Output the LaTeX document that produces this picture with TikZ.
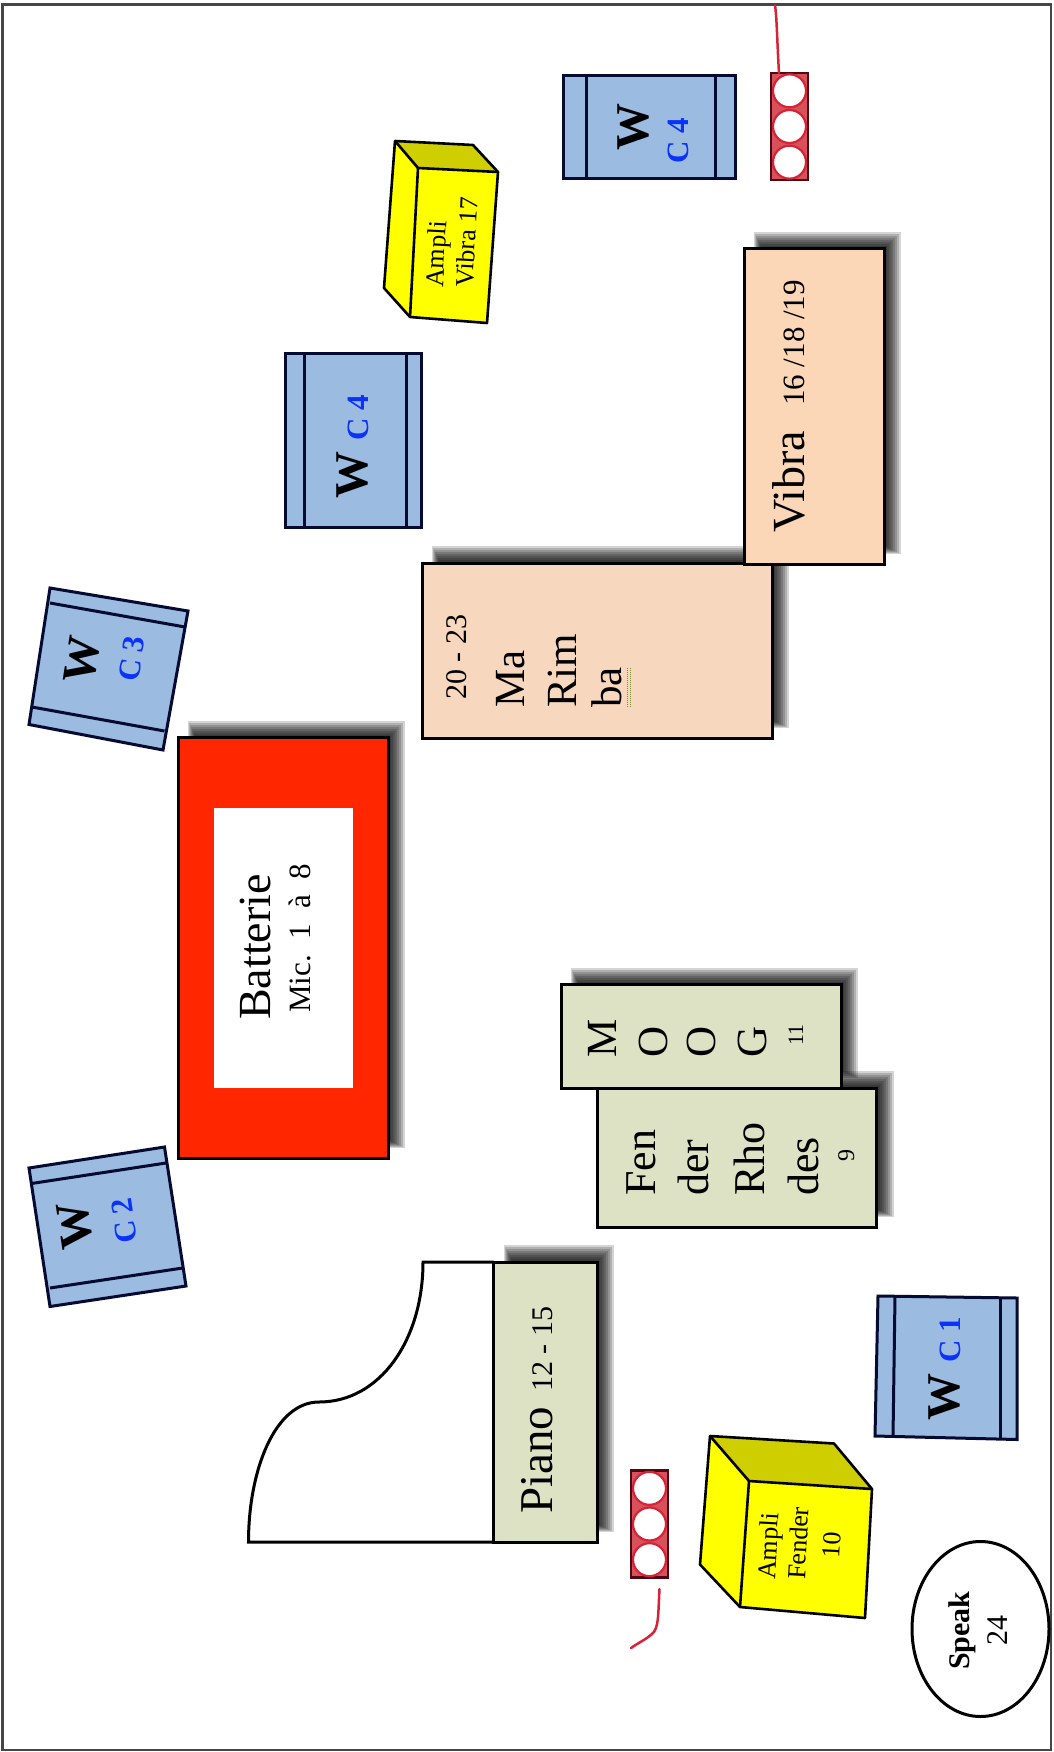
\documentclass[tikz,border=0pt]{standalone}
\usepackage{fontspec}
\setmainfont{Liberation Serif}
\definecolor{wood}{RGB}{251,214,183}
\definecolor{wood2}{RGB}{247,216,190}
\definecolor{sage}{RGB}{221,226,196}
\definecolor{spk}{RGB}{155,187,224}
\definecolor{navy}{RGB}{5,10,50}
\definecolor{drum}{RGB}{255,38,0}
\definecolor{ampf}{RGB}{255,255,0}
\definecolor{ampt}{RGB}{206,206,0}
\definecolor{micr}{RGB}{215,35,55}
\definecolor{micd}{RGB}{80,8,18}
\definecolor{micf}{RGB}{215,80,90}
\definecolor{cblue}{RGB}{10,50,250}
\definecolor{frame}{RGB}{70,70,70}
\definecolor{squig}{RGB}{120,140,50}
\tikzset{
  lbl/.style={inner sep=0pt,anchor=base west,text=black},
  up/.style={lbl,rotate=90},
  fs/.style={font=\fontsize{#1}{#1}\selectfont},
  bfs/.style={font=\fontsize{#1}{#1}\selectfont\bfseries},
  box/.style={draw=black,line width=3pt,line join=miter},
  cab/.style={draw=navy,line width=3pt,fill=spk,line join=miter},
  bar/.style={draw=navy,line width=3pt},
  cubeedge/.style={draw=black,line width=2.6pt,line join=round},
  micbox/.style={draw=micd,line width=2.5pt,fill=micf},
  micc/.style={draw=micr,line width=2.2pt,fill=white},
  micl/.style={draw=micr,line width=2.5pt,line cap=round},
}
% soft shadow of a rectangle, towards the upper right
\newcommand{\softshade}[4]{%
  \foreach \g in {8,6,4,2,0,-2,-4,-6,-8}{%
    \fill[black,fill opacity=.17]
      ({#1+14-\g/2},{#2-9-\g}) rectangle ({#3+9+\g},{#4-14+\g/2});
  }%
}
\newcommand{\micgroup}[4]{%
  \draw[micbox] (#1,#2) rectangle (#3,#4);
  \pgfmathsetmacro{\cx}{(#1+#3)/2}
  \pgfmathsetmacro{\cya}{#2+(#4-#2)/6}
  \pgfmathsetmacro{\cyb}{#2+(#4-#2)/2}
  \pgfmathsetmacro{\cyc}{#2+5*(#4-#2)/6}
  \foreach \cy in {\cya,\cyb,\cyc}{\draw[micc] (\cx,\cy) circle (16.5);}
}
\begin{document}
\begin{tikzpicture}[x=1pt,y=-1pt]
\useasboundingbox (0,0) rectangle (1053,1752);
\fill[white] (0,0) rectangle (1053,1752);
\draw[frame,line width=2.6pt] (2.5,4.5) rectangle (1051,1750);

% ---- top speaker C4 and microphones
\draw[cab] (563,76) rectangle (735,179);
\draw[bar] (586,76) -- (586,179);
\draw[bar] (715,76) -- (715,179);
\node[up,bfs=47] (wa) at (648,151) {W};
\node[up,bfs=31,text=cblue] (ca) at (688,164) {C 4};

\micgroup{771}{73}{808}{180}
\draw[micl] (779,73) .. controls (777,40) and (777,20) .. (775,5);

% ---- ampli vibra
\fill[ampf] (395,141) -- (473,145) -- (498,172) -- (487,323) -- (410,317) -- (384,288) -- cycle;
\fill[ampt] (395,141) -- (473,145) -- (498,172) -- (418,168) -- cycle;
\draw[cubeedge] (395,141) -- (473,145) -- (498,172) -- (487,323) -- (410,317) -- (384,288) -- cycle;
\draw[cubeedge] (395,141) -- (418,168) -- (498,172);
\draw[cubeedge] (418,168) -- (410,317);
\node[lbl,rotate=87,fs=26] (ampv1) at (443,288) {Ampli};
\node[lbl,rotate=87,fs=26] (ampv2) at (473,288) {Vibra 17};

% ---- middle speaker C4
\draw[cab] (285,353) rectangle (421,527);
\draw[bar] (304,353) -- (304,527);
\draw[bar] (406,353) -- (406,527);
\node[up,bfs=47] (wb) at (367,499) {W};
\node[up,bfs=31,text=cblue] (cb) at (368,441) {C 4};

% ---- marimba
\softshade{422}{563}{772}{738}
\draw[box,fill=wood2] (422,563) rectangle (772,738);
\node[up,fs=30] (mar0) at (466,700) {20 - 23};
\node[up,fs=43] (mar1) at (524,708) {Ma};
\node[up,fs=43] (mar2) at (576,708) {Rim};
\node[up,fs=43] (mar3) at (621,708) {ba};
\draw[squig,line width=1pt,densely dotted] (627,668) -- (627,707);
\draw[squig,line width=1pt,densely dotted] (630,668) -- (630,707);

% ---- vibra
\softshade{744}{249}{884}{564}
\draw[box,fill=wood] (744,249) rectangle (884,564);
\node[up,fs=46] (vib) at (804,533) {Vibra};
\node[up,fs=31] (vibn) at (804,406) {16 /18 /19};

% ---- speaker C3
\draw[cab] (50,588) -- (188,611) -- (163,750) -- (29,724.5) -- cycle;
\draw[bar] (50,603) -- (185,627);
\draw[bar] (32,707) -- (164.5,731);
\node[lbl,rotate=81,bfs=47] (wc) at (93,686) {W};
\node[lbl,rotate=81,bfs=31,text=cblue] (cc) at (138,683) {C 3};

% ---- batterie
\softshade{178}{737.5}{388}{1158}
\draw[box,fill=drum] (178,737.5) rectangle (388,1158);
\fill[white] (213.5,808) rectangle (352.5,1088);
\node[up,fs=46] (bat) at (270,1020) {Batterie};
\node[up,fs=31] (mic) at (310,1013) {Mic.~~1~~à~~8};

% ---- speaker C2
\draw[cab] (29,1168) -- (164.5,1147) -- (186,1286) -- (50,1306.5) -- cycle;
\draw[bar] (31.5,1183.5) -- (166,1163);
\draw[bar] (50,1288) -- (182.7,1268);
\node[lbl,rotate=98.6,bfs=47] (wd) at (94,1247) {W};
\node[lbl,rotate=98.6,bfs=31,text=cblue] (cd) at (138,1242) {C 2};

% ---- fender rhodes
\softshade{597}{1088}{876.5}{1227}
\draw[box,fill=sage] (597,1088) rectangle (876.5,1227);
\node[up,fs=44] (fr1) at (655,1196) {Fen};
\node[up,fs=44] (fr2) at (708.5,1196) {der};
\node[up,fs=44] (fr3) at (764,1196) {Rho};
\node[up,fs=44] (fr4) at (818,1196) {des};
\node[up,fs=24] (fr5) at (854,1162) {9};

% ---- moog
\softshade{561}{984.5}{841}{1088}
\draw[box,fill=sage] (561,984.5) rectangle (841,1088);
\node[up,fs=43] (mo1) at (616,1058) {M};
\node[up,fs=43] (mo2) at (667,1058) {O};
\node[up,fs=43] (mo3) at (715,1058) {O};
\node[up,fs=43] (mo4) at (766,1058) {G};
\node[up,fs=22] (mo5) at (803,1046) {11};

% ---- piano
\softshade{493.5}{1262}{597}{1542}
\draw[box,fill=white] (493.5,1262) -- (423,1262)
  .. controls (423,1340) and (380,1402) .. (319,1402)
  .. controls (275,1402) and (248.5,1470) .. (248.5,1542) -- (493.5,1542);
\draw[box,fill=sage] (493.5,1262) rectangle (597,1542);
\node[up,fs=47] (pia) at (552,1514) {Piano};
\node[up,fs=30] (pian) at (552,1392) {12 - 15};

% ---- lower microphones
\micgroup{631}{1470.5}{668}{1577.5}
\draw[micl] (659.5,1589) .. controls (658,1615) and (659,1628) .. (652,1634) .. controls (645,1640) and (638,1643) .. (631,1648);

% ---- speaker C1
\draw[cab] (878,1296) -- (1017,1298) -- (1017,1439.5) -- (875,1436) -- cycle;
\draw[bar] (895,1296) -- (893,1437);
\draw[bar] (1000.5,1298) -- (1000.5,1439);
\node[up,bfs=47] (we) at (959,1421) {W};
\node[up,bfs=31,text=cblue] (ce) at (960,1363) {C 1};

% ---- ampli fender
\fill[ampf] (710,1436) -- (834,1443.5) -- (872,1489) -- (865,1618) -- (740,1607) -- (700,1564.5) -- cycle;
\fill[ampt] (710,1436) -- (834,1443.5) -- (872,1489) -- (749,1481) -- cycle;
\draw[cubeedge] (710,1436) -- (834,1443.5) -- (872,1489) -- (865,1618) -- (740,1607) -- (700,1564.5) -- cycle;
\draw[cubeedge] (710,1436) -- (749,1481) -- (872,1489);
\draw[cubeedge] (749,1481) -- (740,1607);
\node[lbl,rotate=87,fs=26] (amf1) at (775,1580) {Ampli};
\node[lbl,rotate=87,fs=26] (amf2) at (805,1580) {Fender};
\node[lbl,rotate=87,fs=26] (amf3) at (839.5,1558.5) {10};

% ---- speak
\draw[draw=black,line width=3pt,fill=white] (980.5,1629) ellipse [x radius=68.5,y radius=87.5];
\node[up,bfs=30] (spe) at (969,1670) {Speak};
\node[up,fs=30] (spn) at (1007,1646) {24};
\end{tikzpicture}
\end{document}
